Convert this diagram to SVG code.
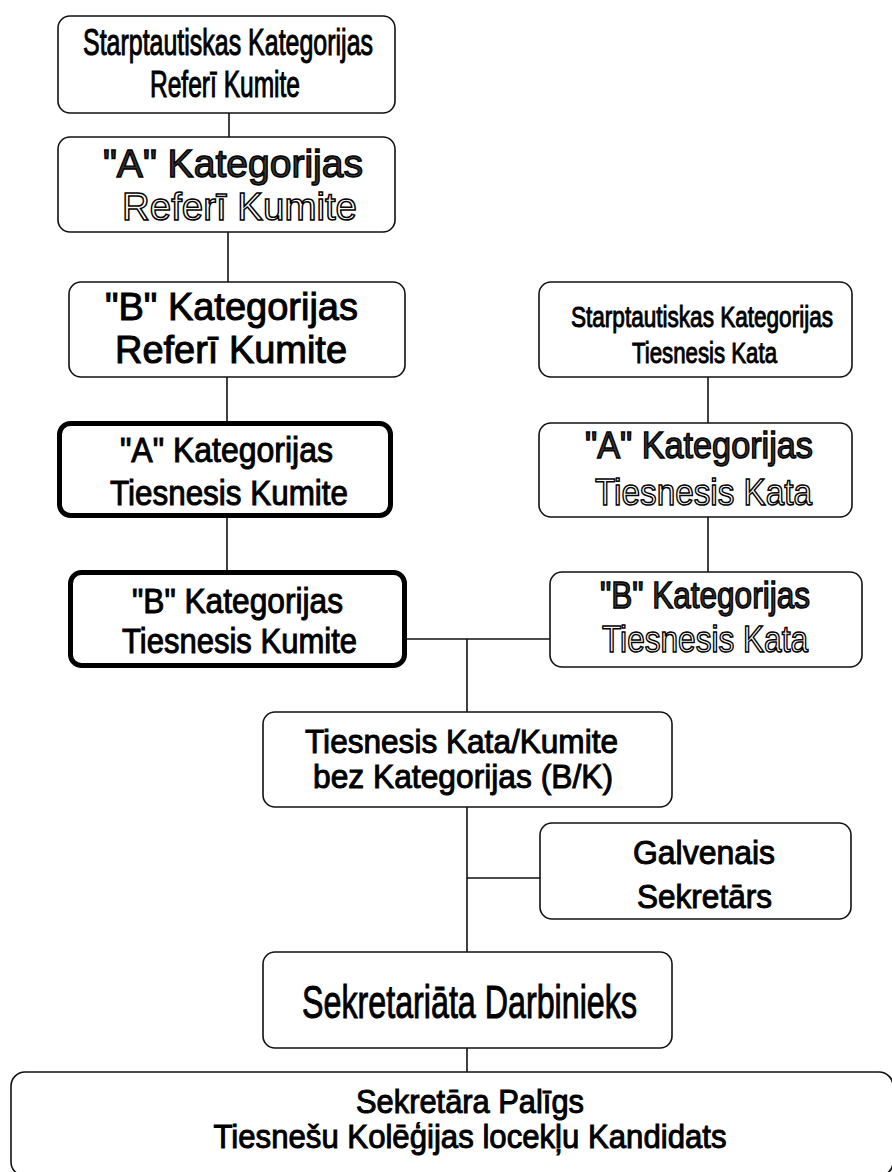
<svg xmlns="http://www.w3.org/2000/svg" width="892" height="1172" viewBox="0 0 892 1172">
<style>
.box{fill:#fff;stroke:#111;stroke-width:1.6}
.thick{fill:#fff;stroke:#000;stroke-width:5}
.t{font-family:"Liberation Sans",Arial,sans-serif;fill:#000;stroke:#000;stroke-width:1;text-anchor:middle}
.ol{font-family:"Liberation Sans",Arial,sans-serif;fill:#fff;stroke:#000;stroke-width:1.5;text-anchor:middle}
.olf{font-family:"Liberation Sans",Arial,sans-serif;fill:#333;stroke:#000;stroke-width:1.4;text-anchor:middle}
.c{stroke:#111;stroke-width:1.6;fill:none}
</style>
<rect width="892" height="1172" fill="#fff"/>
<g id="connectors">
<line class="c" x1="229" y1="113" x2="229" y2="137"/>
<line class="c" x1="228" y1="232" x2="228" y2="282"/>
<line class="c" x1="227" y1="377" x2="227" y2="421"/>
<line class="c" x1="227" y1="518" x2="227" y2="570"/>
<line class="c" x1="708" y1="377" x2="708" y2="423"/>
<line class="c" x1="708" y1="517" x2="708" y2="572"/>
<line class="c" x1="406" y1="639" x2="550" y2="639"/>
<line class="c" x1="467" y1="639" x2="467" y2="712"/>
<line class="c" x1="467" y1="807" x2="467" y2="952"/>
<line class="c" x1="467" y1="878" x2="540" y2="878"/>
<line class="c" x1="467" y1="1048" x2="467" y2="1072"/>
</g>
<g id="n1">
<rect class="box" x="58" y="16" width="337" height="97" rx="12"/>
<text class="t" font-size="36" x="228" y="55" textLength="290" lengthAdjust="spacingAndGlyphs">Starptautiskas Kategorijas</text>
<text class="t" font-size="36" x="225" y="97" textLength="150" lengthAdjust="spacingAndGlyphs">Referī Kumite</text>
</g>
<g id="n2">
<rect class="box" x="58" y="137" width="337" height="95" rx="12"/>
<text class="olf" font-size="39" x="233" y="177" textLength="260" lengthAdjust="spacingAndGlyphs">"A" Kategorijas</text>
<text class="ol" font-size="39" x="239.5" y="220" textLength="235" lengthAdjust="spacingAndGlyphs">Referī Kumite</text>
</g>
<g id="n3">
<rect class="box" x="69" y="282" width="336" height="95" rx="12"/>
<text class="t" font-size="38" x="231.5" y="320" textLength="253" lengthAdjust="spacingAndGlyphs">"B" Kategorijas</text>
<text class="t" font-size="38" x="231" y="363" textLength="232" lengthAdjust="spacingAndGlyphs">Referī Kumite</text>
</g>
<g id="n4">
<rect class="thick" x="59.5" y="423.5" width="331" height="92" rx="11"/>
<text class="t" font-size="35" x="226.5" y="462" textLength="213" lengthAdjust="spacingAndGlyphs">"A" Kategorijas</text>
<text class="t" font-size="35" x="229" y="505" textLength="238" lengthAdjust="spacingAndGlyphs">Tiesnesis Kumite</text>
</g>
<g id="n5">
<rect class="thick" x="70.5" y="572.5" width="334" height="93" rx="11"/>
<text class="t" font-size="35" x="237.5" y="613" textLength="211" lengthAdjust="spacingAndGlyphs">"B" Kategorijas</text>
<text class="t" font-size="35" x="239.5" y="653" textLength="235" lengthAdjust="spacingAndGlyphs">Tiesnesis Kumite</text>
</g>
<g id="n6">
<rect class="box" x="539" y="282" width="313" height="95" rx="12"/>
<text class="t" font-size="30" x="702" y="327" textLength="262" lengthAdjust="spacingAndGlyphs">Starptautiskas Kategorijas</text>
<text class="t" font-size="30" x="704.5" y="363" textLength="145" lengthAdjust="spacingAndGlyphs">Tiesnesis Kata</text>
</g>
<g id="n7">
<rect class="box" x="539" y="423" width="313" height="94" rx="12"/>
<text class="olf" font-size="37" x="699" y="458" textLength="228" lengthAdjust="spacingAndGlyphs">"A" Kategorijas</text>
<text class="ol" font-size="37" x="703.5" y="505" textLength="217" lengthAdjust="spacingAndGlyphs">Tiesnesis Kata</text>
</g>
<g id="n8">
<rect class="box" x="550" y="572" width="312" height="95" rx="12"/>
<text class="olf" font-size="36" x="705" y="608" textLength="210" lengthAdjust="spacingAndGlyphs">"B" Kategorijas</text>
<text class="ol" font-size="36" x="705" y="652" textLength="206" lengthAdjust="spacingAndGlyphs">Tiesnesis Kata</text>
</g>
<g id="n9">
<rect class="box" x="263" y="712" width="409" height="95" rx="12"/>
<text class="t" font-size="34" x="461.5" y="753" textLength="313" lengthAdjust="spacingAndGlyphs">Tiesnesis Kata/Kumite</text>
<text class="t" font-size="34" x="463" y="788" textLength="300" lengthAdjust="spacingAndGlyphs">bez Kategorijas (B/K)</text>
</g>
<g id="n10">
<rect class="box" x="540" y="823" width="311" height="96" rx="12"/>
<text class="t" font-size="34" x="704" y="864" textLength="142" lengthAdjust="spacingAndGlyphs">Galvenais</text>
<text class="t" font-size="34" x="704.5" y="908" textLength="135" lengthAdjust="spacingAndGlyphs">Sekretārs</text>
</g>
<g id="n11">
<rect class="box" x="263" y="952" width="409" height="96" rx="12"/>
<text class="t" font-size="47" x="469.5" y="1018" textLength="335" lengthAdjust="spacingAndGlyphs">Sekretariāta Darbinieks</text>
</g>
<g id="n12">
<rect class="box" x="11" y="1072" width="882" height="104" rx="14"/>
<text class="t" font-size="33" x="470" y="1113" textLength="228" lengthAdjust="spacingAndGlyphs">Sekretāra Palīgs</text>
<text class="t" font-size="33" x="470" y="1148" textLength="513" lengthAdjust="spacingAndGlyphs">Tiesnešu Kolēģijas locekļu Kandidats</text>
</g>
</svg>
